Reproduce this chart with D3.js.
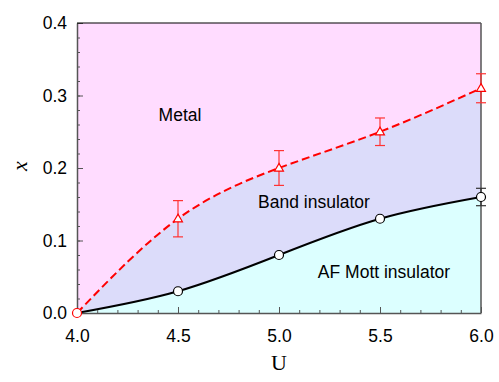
<!DOCTYPE html>
<html>
<head>
<meta charset="utf-8">
<script src="https://cdn.jsdelivr.net/npm/d3@7"></script>
<style>
  body { margin: 0; background: #fff; }
  text { font-family: "Liberation Sans", Arial, sans-serif; }
</style>
</head>
<body>
<svg width="499" height="382"></svg>
<script>
// phase boundaries, U vs x
var uVals = [4.0, 4.5, 5.0, 5.5, 6.0];
var afBoundary = [0.0, 0.03, 0.08, 0.13, 0.16];      // black, circles
var afErr = [0, 0, 0, 0, 0.012];
var bandBoundary = [0.0, 0.13, 0.20, 0.25, 0.31];    // red dashed, triangles
var bandErr = [0, 0.025, 0.024, 0.019, 0.02];
var xTicks = [4.0, 4.5, 5.0, 5.5, 6.0];
var yTicks = [0.0, 0.1, 0.2, 0.3, 0.4];

function drawChart() {
    var svg = d3.select("svg");
    // plot box in px
    var pL = 77, pR = 481, pT = 23, pB = 313;

    var scX = d3.scaleLinear().domain([4, 6]).range([pL, pR]);
    var scY = d3.scaleLinear().domain([0, 0.4]).range([pB, pT]);

    var af = uVals.map((u, i) => ({u: u, x: afBoundary[i], e: afErr[i]}));
    var band = uVals.map((u, i) => ({u: u, x: bandBoundary[i], e: bandErr[i]}));

    var curve = d3.curveNatural;

    // regions: metal background, then band insulator, then AF
    svg.append("rect").attr("x", pL).attr("y", pT)
        .attr("width", pR - pL).attr("height", pB - pT)
        .attr("fill", "#ffdcff");
    var areaMkr = d3.area().curve(curve).x(d => scX(d.u))
        .y0(scY(0)).y1(d => scY(d.x));
    svg.append("path").attr("fill", "#dcdcfa").attr("d", areaMkr(band));
    svg.append("path").attr("fill", "#dcffff").attr("d", areaMkr(af));

    // boundary lines
    var lnMkr = d3.line().curve(curve).x(d => scX(d.u)).y(d => scY(d.x));
    svg.append("path").attr("fill", "none").attr("stroke", "#ff0000")
        .attr("stroke-width", 2).attr("stroke-dasharray", "8,4")
        .attr("d", lnMkr(band));
    svg.append("path").attr("fill", "none").attr("stroke", "#000")
        .attr("stroke-width", 2).attr("d", lnMkr(af));

    // axes
    var axColor = "#555";
    svg.append("g").attr("transform", "translate(0," + pB + ")")
        .call(d3.axisBottom(scX).tickValues(xTicks).tickFormat(d3.format(".1f"))
            .tickSizeInner(-6).tickSizeOuter(0).tickPadding(17));
    svg.append("g").attr("transform", "translate(" + pL + ",0)")
        .call(d3.axisLeft(scY).tickValues(yTicks).tickFormat(d3.format(".1f"))
            .tickSizeInner(-6).tickSizeOuter(0).tickPadding(10));
    // minor ticks
    svg.append("g").attr("transform", "translate(0," + pB + ")")
        .call(d3.axisBottom(scX).tickValues(d3.range(4, 6.001, 0.1))
            .tickSizeInner(-3).tickSizeOuter(0).tickFormat(""))
        .select(".domain").remove();
    svg.append("g").attr("transform", "translate(" + pL + ",0)")
        .call(d3.axisLeft(scY).tickValues(d3.range(0, 0.4001, 0.02))
            .tickSizeInner(-3).tickSizeOuter(0).tickFormat(""))
        .select(".domain").remove();

    svg.selectAll(".tick line").attr("stroke", axColor);
    svg.selectAll(".domain").attr("stroke", axColor).attr("stroke-width", 1.5);
    svg.selectAll(".tick text").attr("font-size", 17.5).attr("fill", "#000");

    // top and right frame
    svg.append("line").attr("x1", pL).attr("x2", pR).attr("y1", pT).attr("y2", pT)
        .attr("stroke", "#000").attr("stroke-width", 1.2);
    svg.append("line").attr("x1", pR).attr("x2", pR).attr("y1", pT).attr("y2", pB)
        .attr("stroke", axColor).attr("stroke-width", 1.5);

    // error bars
    var errBars = function(data, color) {
        var g = svg.append("g").attr("stroke", color).attr("stroke-width", 1.2);
        data.filter(d => d.e > 0).forEach(function(d) {
            var cx = scX(d.u), y1 = scY(d.x - d.e), y2 = scY(d.x + d.e);
            g.append("line").attr("x1", cx).attr("x2", cx).attr("y1", y1).attr("y2", y2);
            g.append("line").attr("x1", cx - 5).attr("x2", cx + 5).attr("y1", y1).attr("y2", y1);
            g.append("line").attr("x1", cx - 5).attr("x2", cx + 5).attr("y1", y2).attr("y2", y2);
        });
    };
    errBars(band, "#ff3333");
    errBars(af, "#333");

    // markers
    svg.append("g").selectAll("path").data(band.slice(1)).enter()
        .append("path")
        .attr("d", d3.symbol().type(d3.symbolTriangle).size(34))
        .attr("transform", d => "translate(" + scX(d.u) + "," + (scY(d.x) + 0.5) + ")")
        .attr("fill", "#fff").attr("stroke", "#ff0000").attr("stroke-width", 1.2);
    svg.append("g").selectAll("circle").data(af).enter()
        .append("circle")
        .attr("cx", d => scX(d.u)).attr("cy", d => scY(d.x)).attr("r", 4.5)
        .attr("fill", "#fff").attr("stroke", (d, i) => i == 0 ? "#ff0000" : "#000")
        .attr("stroke-width", 1.2);

    // phase labels
    var label = function(t, x, y) {
        svg.append("text").attr("x", x).attr("y", y).attr("font-size", 17.5)
            .attr("text-anchor", "middle").text(t);
    };
    label("Metal", 180, 121);
    label("Band insulator", 314, 208);
    label("AF Mott insulator", 384, 278);

    // axis titles
    svg.append("text").attr("x", (pL + pR) / 2).attr("y", 370)
        .attr("text-anchor", "middle").attr("font-size", 22)
        .style("font-family", "Liberation Serif, serif").text("U");
    svg.append("text").attr("transform", "translate(27,166) rotate(-90)")
        .attr("text-anchor", "middle").attr("font-size", 22).attr("font-style", "italic")
        .style("font-family", "Liberation Serif, serif").text("x");
}
drawChart();
</script>
</body>
</html>
